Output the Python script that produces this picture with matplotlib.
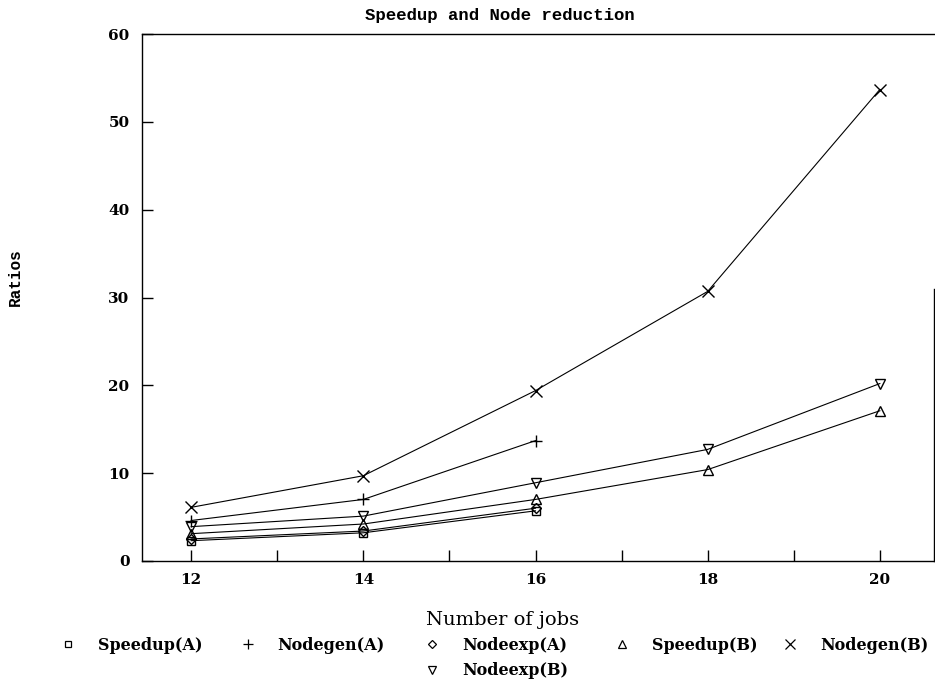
import matplotlib
matplotlib.use("Agg")
import matplotlib.pyplot as plt
from matplotlib.lines import Line2D

# data
jobs_a = [12, 14, 16]
jobs_b = [12, 14, 16, 18, 20]

speedup_a = [2.3, 3.2, 5.7]
nodegen_a = [4.6, 7.0, 13.7]
nodeexp_a = [2.5, 3.4, 6.0]
speedup_b = [3.1, 4.2, 7.0, 10.4, 17.1]
nodegen_b = [6.1, 9.7, 19.4, 30.7, 53.7]
nodeexp_b = [3.9, 5.1, 8.9, 12.7, 20.2]

labels = ["Speedup(A)", "Nodegen(A)", "Nodeexp(A)",
          "Speedup(B)", "Nodegen(B)", "Nodeexp(B)"]
markers = ["s", "+", "D", "^", "x", "v"]
x_ticks = [12, 14, 16, 18, 20]
y_ticks = [0, 10, 20, 30, 40, 50, 60]

series = [
    (jobs_a, speedup_a),
    (jobs_a, nodegen_a),
    (jobs_a, nodeexp_a),
    (jobs_b, speedup_b),
    (jobs_b, nodegen_b),
    (jobs_b, nodeexp_b),
]
marker_sizes = [6, 8, 5, 7, 8, 7]

serif = "DejaVu Serif"
mono = "Liberation Mono"

fig = plt.figure(figsize=(9.35, 6.84), dpi=100)
ax = fig.add_axes([0.152, 0.180, 0.847, 0.770])

for (xs, ys), lab, m, ms in zip(series, labels, markers, marker_sizes):
    ax.plot(xs, ys, color="black", linewidth=0.8, marker=m, markersize=ms,
            markerfacecolor="none", markeredgecolor="black",
            markeredgewidth=1.0, label=lab)

ax.set_xlim(11.43, 20.63)
ax.set_ylim(0, 60)
ax.set_xticks(x_ticks)
ax.set_xticks([13, 15, 17, 19], minor=True)
ax.set_yticks(y_ticks)
ax.tick_params(axis="both", which="both", direction="in", length=8,
               width=1.0, pad=9)
ax.set_xticklabels([str(v) for v in x_ticks], family=serif, fontsize=11,
                   weight="bold")
ax.set_yticklabels([str(v) for v in y_ticks], family=serif, fontsize=11,
                   weight="bold")

for s in ax.spines.values():
    s.set_linewidth(1.0)
ax.spines["right"].set_bounds(0, 31)

fig.text(0.535, 0.978, "Speedup and Node reduction", family=mono,
         fontsize=12.5, weight="bold", ha="center", va="center")
fig.text(0.016, 0.595, "Ratios", family=mono, fontsize=11.5, weight="bold",
         rotation=90, ha="center", va="center")
fig.text(0.538, 0.094, "Number of jobs", family=serif, fontsize=14,
         ha="center", va="center")

# hand-placed legend to follow the reference layout
legend_pos = [(0.073, 0.057), (0.265, 0.057), (0.462, 0.057),
              (0.665, 0.057), (0.845, 0.057), (0.462, 0.020)]
for (lx, ly), lab, m, ms in zip(legend_pos, labels, markers, marker_sizes):
    fig.add_artist(Line2D([lx], [ly + 0.001], transform=fig.transFigure,
                          marker=m, markersize=ms - 1, markerfacecolor="none",
                          markeredgecolor="black", markeredgewidth=0.9,
                          linestyle="none"))
    fig.text(lx + 0.032, ly, lab, family=serif, fontsize=11.5, weight="bold",
             ha="left", va="center")

fig.savefig("out.png", dpi=100)
